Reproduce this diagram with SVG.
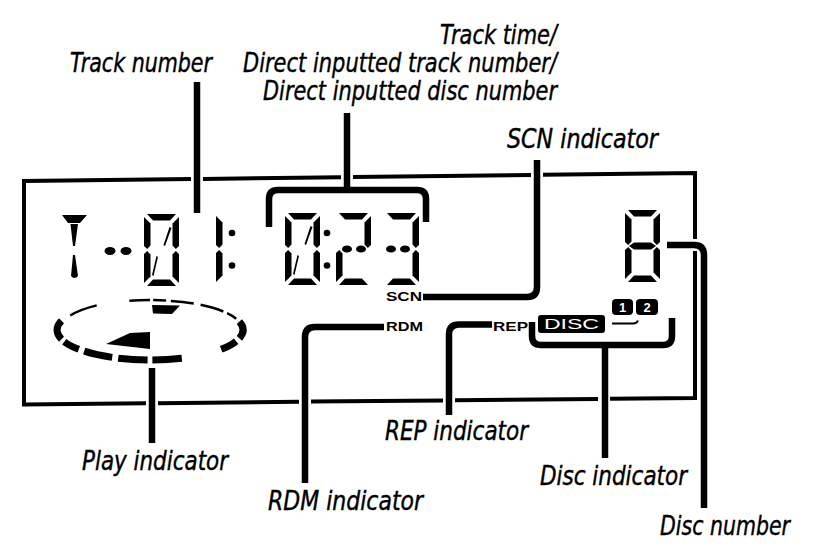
<svg xmlns="http://www.w3.org/2000/svg" width="813" height="548" viewBox="0 0 813 548">
<style>
.lbl{font-family:"Liberation Sans Narrow","DejaVu Sans Condensed","Liberation Sans",sans-serif;font-style:italic;font-size:27px;fill:#000;stroke:#000;stroke-width:0.4}
.ind{font-family:"Liberation Sans","DejaVu Sans",sans-serif;font-weight:bold;font-size:13px;fill:#000}
.lead{fill:none;stroke:#000;stroke-width:6.5;stroke-linecap:butt;stroke-linejoin:round}
.frame{fill:none;stroke:#000;stroke-width:4;stroke-linejoin:miter}
.thick{fill:none;stroke:#000;stroke-width:7;stroke-linecap:butt}
.thin{fill:none;stroke:#000;stroke-width:2.5;stroke-linecap:butt}
.seg{fill:#000}
</style>
<defs>
  <path id="sa" d="M3,0 H32 L26,6.5 H9 Z"/>
  <path id="sf" d="M0,3 L6.5,9.5 V31.5 L3.2,35 L0,32 Z"/>
  <path id="sb" d="M35,3 L28.5,9.5 V31.5 L31.8,35 L35,32 Z"/>
  <path id="se" d="M0,40 L3.2,37 L6.5,40.5 V62.5 L0,69 Z"/>
  <path id="sc" d="M35,40 L31.8,37 L28.5,40.5 V62.5 L35,69 Z"/>
  <path id="sd" d="M3,72 H32 L26,65.5 H9 Z"/>
  <path id="sg" d="M4,36 L9,32.5 H26 L31,36 L26,39.5 H9 Z"/>
  <g id="zero">
    <use href="#sa"/><use href="#sb"/><use href="#sc"/><use href="#sd"/><use href="#se"/><use href="#sf"/>
    <path d="M25.5,13 L27.5,14 L21,32 L19.5,31 Z"/>
    <path d="M12.5,42 L14,43 L9.5,62 L8,61 Z"/>
  </g>
</defs>

<g id="frame">
  <path class="frame" d="M146,403.3 L24,404.5 L24,181 L191,179 M203,178.9 L341,177.2 M353,177.1 L531,175 M543,174.8 L695,173 L695,239 M695,251 L695,398 L610,398.8 M598,398.9 L455,400.3 M443,400.4 L311,401.6 M299,401.8 L158,403.2"/>
</g>

<g id="lcd-digits" class="seg">
  <path d="M62,215 H87 L80,223 H68 Z"/>
  <path d="M70.5,224 H78 L75,246 H73 Z"/>
  <path d="M73,255 H75 L78,276 Q74.5,280 71,276 Z"/>
  <ellipse cx="110" cy="251" rx="5.5" ry="4"/>
  <ellipse cx="126" cy="251" rx="5.5" ry="4"/>
  <use href="#zero" transform="translate(144,214)"/>
  <g transform="translate(216,213)"><use href="#sf"/><use href="#se"/></g>
  <circle cx="232" cy="233" r="3.3"/>
  <circle cx="232" cy="265.5" r="3.3"/>
  <use href="#zero" transform="translate(285,213)"/>
  <circle cx="327" cy="233" r="3.3"/>
  <circle cx="327" cy="265.5" r="3.3"/>
  <g transform="translate(336,213)"><use href="#sa"/><use href="#sb"/><use href="#se"/><use href="#sd"/></g>
  <ellipse cx="347" cy="249" rx="5" ry="3.6"/>
  <ellipse cx="361" cy="249" rx="5" ry="3.6"/>
  <g transform="translate(384,213)"><use href="#sa"/><use href="#sb"/><use href="#sc"/><use href="#sd"/></g>
  <ellipse cx="391" cy="249" rx="5" ry="3.6"/>
  <ellipse cx="405" cy="249" rx="5" ry="3.6"/>
</g>

<g id="disc-number-digit" class="seg" transform="translate(625,210)">
  <use href="#sa"/><use href="#sb"/><use href="#sc"/><use href="#sd"/><use href="#se"/><use href="#sf"/><use href="#sg"/>
</g>

<g id="play-indicator">
  <path class="thick" d="M61.5,320.8 A93,30 0 0,0 61.5,339.2"/>
  <path class="thick" d="M64.3,341.7 A93,30 0 0,0 78.8,349.3"/>
  <path class="thick" d="M84.2,351.2 A93,30 0 0,0 112.2,357.4"/>
  <path class="thick" d="M118.2,358.2 A93,30 0 0,0 147.6,360"/>
  <path class="thick" d="M152.4,360 A93,30 0 0,0 181.8,358.2"/>
  <path class="thick" d="M221.2,349.3 A93,30 0 0,0 236.2,341.2"/>
  <path class="thick" d="M239.4,338.3 A93,30 0 0,0 239.4,321.7"/>
  <path class="thin" d="M70.3,315.5 A93,30 0 0,1 96.7,305.4"/>
  <path class="thin" d="M129.3,300.7 A93,30 0 0,1 150,300"/>
  <path class="thin" d="M153.2,300 A93,30 0 0,1 166.1,300.5"/>
  <path class="thin" d="M170.9,301 A93,30 0 0,1 193.7,303.5"/>
  <path class="thin" d="M200.6,304.8 A93,30 0 0,1 223.3,311.5"/>
  <path class="thin" d="M227.1,313.2 A93,30 0 0,1 236.2,318.8"/>
  <path class="seg" d="M152,305 L180,305.5 L172,314 L153,313.5 Z"/>
  <path class="seg" d="M106,344 L130,333 L150,332 L150,349 Z"/>
</g>

<g id="scn-indicator"><text class="ind" x="386" y="301" textLength="36" lengthAdjust="spacingAndGlyphs">SCN</text></g>
<g id="rdm-indicator"><text class="ind" x="386" y="331" textLength="37" lengthAdjust="spacingAndGlyphs">RDM</text></g>
<g id="rep-indicator"><text class="ind" x="493" y="331" textLength="35" lengthAdjust="spacingAndGlyphs">REP</text></g>

<g id="disc-indicator">
  <rect x="538" y="315" width="67" height="18" rx="3" fill="#000"/>
  <text x="544" y="329" font-family="Liberation Sans, DejaVu Sans, sans-serif" font-size="14" fill="#fff" textLength="55" lengthAdjust="spacingAndGlyphs">DISC</text>
  <rect x="612" y="299" width="21" height="16" rx="4" fill="#000"/>
  <rect x="636" y="299" width="22" height="16" rx="4" fill="#000"/>
  <text x="622.5" y="312" text-anchor="middle" font-family="Liberation Sans, DejaVu Sans, sans-serif" font-weight="bold" font-size="13" fill="#fff">1</text>
  <text x="647" y="312" text-anchor="middle" font-family="Liberation Sans, DejaVu Sans, sans-serif" font-weight="bold" font-size="13" fill="#fff">2</text>
  <path d="M612,323.5 H633 Q637,323.5 638,320.5" fill="none" stroke="#000" stroke-width="2"/>
</g>

<g id="connectors">
  <path class="lead" d="M197,82 V213"/>
  <path class="lead" d="M347,113 V190"/>
  <path class="lead" stroke-width="6" d="M269,227 V199 Q269,190 278,190 H417 Q426,190 426,199 V222"/>
  <path class="lead" d="M537,160 V287 Q537,297 527,297 H423"/>
  <path class="lead" d="M384,327 H315 Q305,327 305,337 V483"/>
  <path class="lead" d="M492,324.5 H459 Q449,324.5 449,334.5 V415"/>
  <path class="lead" stroke-width="6" d="M532,322 V336 Q532,345 541,345 H663 Q672,345 672,336 V318"/>
  <path class="lead" d="M605,345 V458"/>
  <path class="lead" d="M152,368 V443"/>
  <path class="lead" d="M667,245 H694 Q704,245 704,255 V508"/>
</g>

<g id="labels">
  <text class="lbl" x="70" y="72" textLength="142" lengthAdjust="spacingAndGlyphs">Track number</text>
  <text class="lbl" x="440" y="44" textLength="117" lengthAdjust="spacingAndGlyphs">Track time/</text>
  <text class="lbl" x="243" y="72" textLength="314" lengthAdjust="spacingAndGlyphs">Direct inputted track number/</text>
  <text class="lbl" x="263" y="100" textLength="294" lengthAdjust="spacingAndGlyphs">Direct inputted disc number</text>
  <text class="lbl" x="507" y="148" textLength="151" lengthAdjust="spacingAndGlyphs">SCN indicator</text>
  <text class="lbl" x="82" y="470" textLength="146" lengthAdjust="spacingAndGlyphs">Play indicator</text>
  <text class="lbl" x="385" y="440" textLength="143" lengthAdjust="spacingAndGlyphs">REP indicator</text>
  <text class="lbl" x="540" y="485" textLength="147" lengthAdjust="spacingAndGlyphs">Disc indicator</text>
  <text class="lbl" x="268" y="510" textLength="155" lengthAdjust="spacingAndGlyphs">RDM indicator</text>
  <text class="lbl" x="660" y="535" textLength="130" lengthAdjust="spacingAndGlyphs">Disc number</text>
</g>
</svg>
